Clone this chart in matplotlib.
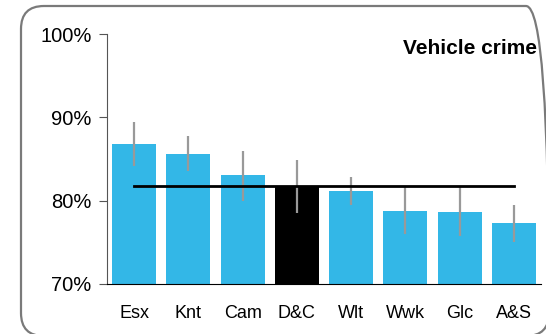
import numpy as np
import matplotlib.pyplot as plt
from matplotlib.patches import FancyBboxPatch
from matplotlib.transforms import IdentityTransform

plt.rcParams['font.family'] = ['Liberation Sans', 'DejaVu Sans']

# Veriler
areas = ['Esx', 'Knt', 'Cam', 'D&C', 'Wlt', 'Wwk', 'Glc', 'A&S']
values = [86.8, 85.6, 83.1, 81.7, 81.2, 78.8, 78.6, 77.3]
err_low = [84.2, 83.6, 80.0, 78.5, 79.5, 76.0, 75.8, 75.0]
err_high = [89.5, 87.8, 86.0, 84.9, 82.8, 81.7, 81.7, 79.5]
average = 81.7
highlight = 'D&C'
yticks = [70, 80, 90, 100]

fig = plt.figure(figsize=(5.46, 3.34), dpi=100)

ax = fig.add_axes([0.196, 0.150, 0.795, 0.748])
ax.patch.set_alpha(0)
x = np.arange(len(areas))
colors = ['black' if a == highlight else '#33b7e7' for a in areas]
ax.bar(x, np.array(values) - 70, bottom=70, width=0.81, color=colors, zorder=2)
ax.vlines(x, err_low, err_high, color='#999999', linewidth=1.6, zorder=3)
ax.plot([x[0], x[-1]], [average, average], color='black', linewidth=2.0, zorder=4)

ax.set_xlim(-0.5, len(areas) - 0.5)
ax.set_ylim(70, 100)
ax.set_yticks(yticks)
ax.set_yticklabels([f'{t}%' for t in yticks], fontsize=14.5)
ax.set_xticks(x)
ax.set_xticklabels(areas, fontsize=13)
ax.tick_params(axis='x', length=0, pad=15)
ax.tick_params(axis='y', length=6, color='#555555', pad=5)
for s in ['top', 'right']:
    ax.spines[s].set_visible(False)
ax.spines['left'].set_color('#555555')
ax.spines['bottom'].set_color('black')

ax.text(0.99, 0.98, 'Vehicle crime', transform=ax.transAxes, ha='right', va='top',
        fontsize=15, fontweight='bold')

# Yuvarlak köşeli çerçeve (piksel koordinatları)
frame = FancyBboxPatch((21, -2), 528, 330,
                       boxstyle='round,pad=0,rounding_size=23',
                       transform=IdentityTransform(), fill=False,
                       edgecolor='#7a7a7a', linewidth=1.6, zorder=5)
fig.patches.append(frame)

fig.savefig('out.png', dpi=100)
